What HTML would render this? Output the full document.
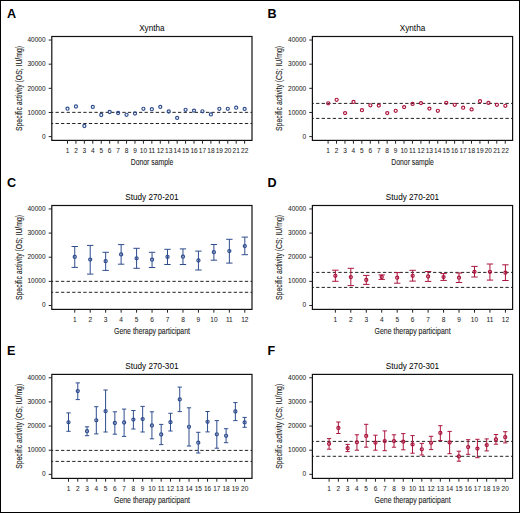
<!DOCTYPE html>
<html><head><meta charset="utf-8"><style>
html,body{margin:0;padding:0;background:#fff;}
body{width:520px;height:513px;overflow:hidden;}
svg{display:block;}
svg text{font-family:"Liberation Sans", sans-serif;stroke:#1e1e1e;stroke-width:0.12px;}
svg text.b{stroke:none;}
svg text.t{stroke-width:0.05px;}
</style></head><body>
<svg width="520" height="513" viewBox="0 0 520 513">
<rect x="0" y="0" width="520" height="513" fill="#fff"/>
<rect x="0.5" y="0.5" width="519" height="512" fill="none" stroke="#000" stroke-width="1"/>
<text x="7" y="17.6" font-size="12.6" font-weight="bold" class="b">A</text>
<text x="151.9" y="31.2" font-size="8.2" text-anchor="middle" class="b">Xyntha</text>
<line x1="51.8" x2="252" y1="112.35" y2="112.35" stroke="#222" stroke-width="1" stroke-dasharray="3.3 2.27" stroke-dashoffset="1.9"/>
<line x1="51.8" x2="252" y1="123.5" y2="123.5" stroke="#222" stroke-width="1" stroke-dasharray="3.3 2.27" stroke-dashoffset="1.9"/>
<rect x="51.8" y="36.5" width="200.2" height="103.9" fill="none" stroke="#111" stroke-width="1.2"/>
<line x1="48.7" x2="51.8" y1="136.6" y2="136.6" stroke="#222" stroke-width="1"/>
<text transform="translate(45.6,138.8) scale(0.87,1)" font-size="7.5" text-anchor="end" fill="#1e1e1e" class="t">0</text>
<line x1="48.7" x2="51.8" y1="112.46" y2="112.46" stroke="#222" stroke-width="1"/>
<text transform="translate(45.6,114.66) scale(0.87,1)" font-size="7.5" text-anchor="end" fill="#1e1e1e" class="t">10000</text>
<line x1="48.7" x2="51.8" y1="88.32" y2="88.32" stroke="#222" stroke-width="1"/>
<text transform="translate(45.6,90.52) scale(0.87,1)" font-size="7.5" text-anchor="end" fill="#1e1e1e" class="t">20000</text>
<line x1="48.7" x2="51.8" y1="64.18" y2="64.18" stroke="#222" stroke-width="1"/>
<text transform="translate(45.6,66.38) scale(0.87,1)" font-size="7.5" text-anchor="end" fill="#1e1e1e" class="t">30000</text>
<line x1="48.7" x2="51.8" y1="40.04" y2="40.04" stroke="#222" stroke-width="1"/>
<text transform="translate(45.6,42.24) scale(0.87,1)" font-size="7.5" text-anchor="end" fill="#1e1e1e" class="t">40000</text>
<line x1="67.5" x2="67.5" y1="140.4" y2="143.7" stroke="#222" stroke-width="1"/>
<text transform="translate(67.5,152.6) scale(0.87,1)" font-size="7.5" text-anchor="middle" fill="#1e1e1e" class="t">1</text>
<line x1="75.94" x2="75.94" y1="140.4" y2="143.7" stroke="#222" stroke-width="1"/>
<text transform="translate(75.94,152.6) scale(0.87,1)" font-size="7.5" text-anchor="middle" fill="#1e1e1e" class="t">2</text>
<line x1="84.37" x2="84.37" y1="140.4" y2="143.7" stroke="#222" stroke-width="1"/>
<text transform="translate(84.37,152.6) scale(0.87,1)" font-size="7.5" text-anchor="middle" fill="#1e1e1e" class="t">3</text>
<line x1="92.81" x2="92.81" y1="140.4" y2="143.7" stroke="#222" stroke-width="1"/>
<text transform="translate(92.81,152.6) scale(0.87,1)" font-size="7.5" text-anchor="middle" fill="#1e1e1e" class="t">4</text>
<line x1="101.24" x2="101.24" y1="140.4" y2="143.7" stroke="#222" stroke-width="1"/>
<text transform="translate(101.24,152.6) scale(0.87,1)" font-size="7.5" text-anchor="middle" fill="#1e1e1e" class="t">5</text>
<line x1="109.68" x2="109.68" y1="140.4" y2="143.7" stroke="#222" stroke-width="1"/>
<text transform="translate(109.68,152.6) scale(0.87,1)" font-size="7.5" text-anchor="middle" fill="#1e1e1e" class="t">6</text>
<line x1="118.11" x2="118.11" y1="140.4" y2="143.7" stroke="#222" stroke-width="1"/>
<text transform="translate(118.11,152.6) scale(0.87,1)" font-size="7.5" text-anchor="middle" fill="#1e1e1e" class="t">7</text>
<line x1="126.55" x2="126.55" y1="140.4" y2="143.7" stroke="#222" stroke-width="1"/>
<text transform="translate(126.55,152.6) scale(0.87,1)" font-size="7.5" text-anchor="middle" fill="#1e1e1e" class="t">8</text>
<line x1="134.98" x2="134.98" y1="140.4" y2="143.7" stroke="#222" stroke-width="1"/>
<text transform="translate(134.98,152.6) scale(0.87,1)" font-size="7.5" text-anchor="middle" fill="#1e1e1e" class="t">9</text>
<line x1="143.42" x2="143.42" y1="140.4" y2="143.7" stroke="#222" stroke-width="1"/>
<text transform="translate(143.42,152.6) scale(0.87,1)" font-size="7.5" text-anchor="middle" fill="#1e1e1e" class="t">10</text>
<line x1="151.85" x2="151.85" y1="140.4" y2="143.7" stroke="#222" stroke-width="1"/>
<text transform="translate(151.85,152.6) scale(0.87,1)" font-size="7.5" text-anchor="middle" fill="#1e1e1e" class="t">11</text>
<line x1="160.29" x2="160.29" y1="140.4" y2="143.7" stroke="#222" stroke-width="1"/>
<text transform="translate(160.29,152.6) scale(0.87,1)" font-size="7.5" text-anchor="middle" fill="#1e1e1e" class="t">12</text>
<line x1="168.72" x2="168.72" y1="140.4" y2="143.7" stroke="#222" stroke-width="1"/>
<text transform="translate(168.72,152.6) scale(0.87,1)" font-size="7.5" text-anchor="middle" fill="#1e1e1e" class="t">13</text>
<line x1="177.16" x2="177.16" y1="140.4" y2="143.7" stroke="#222" stroke-width="1"/>
<text transform="translate(177.16,152.6) scale(0.87,1)" font-size="7.5" text-anchor="middle" fill="#1e1e1e" class="t">14</text>
<line x1="185.59" x2="185.59" y1="140.4" y2="143.7" stroke="#222" stroke-width="1"/>
<text transform="translate(185.59,152.6) scale(0.87,1)" font-size="7.5" text-anchor="middle" fill="#1e1e1e" class="t">15</text>
<line x1="194.03" x2="194.03" y1="140.4" y2="143.7" stroke="#222" stroke-width="1"/>
<text transform="translate(194.03,152.6) scale(0.87,1)" font-size="7.5" text-anchor="middle" fill="#1e1e1e" class="t">16</text>
<line x1="202.46" x2="202.46" y1="140.4" y2="143.7" stroke="#222" stroke-width="1"/>
<text transform="translate(202.46,152.6) scale(0.87,1)" font-size="7.5" text-anchor="middle" fill="#1e1e1e" class="t">17</text>
<line x1="210.9" x2="210.9" y1="140.4" y2="143.7" stroke="#222" stroke-width="1"/>
<text transform="translate(210.9,152.6) scale(0.87,1)" font-size="7.5" text-anchor="middle" fill="#1e1e1e" class="t">18</text>
<line x1="219.33" x2="219.33" y1="140.4" y2="143.7" stroke="#222" stroke-width="1"/>
<text transform="translate(219.33,152.6) scale(0.87,1)" font-size="7.5" text-anchor="middle" fill="#1e1e1e" class="t">19</text>
<line x1="227.77" x2="227.77" y1="140.4" y2="143.7" stroke="#222" stroke-width="1"/>
<text transform="translate(227.77,152.6) scale(0.87,1)" font-size="7.5" text-anchor="middle" fill="#1e1e1e" class="t">20</text>
<line x1="236.2" x2="236.2" y1="140.4" y2="143.7" stroke="#222" stroke-width="1"/>
<text transform="translate(236.2,152.6) scale(0.87,1)" font-size="7.5" text-anchor="middle" fill="#1e1e1e" class="t">21</text>
<line x1="244.64" x2="244.64" y1="140.4" y2="143.7" stroke="#222" stroke-width="1"/>
<text transform="translate(244.64,152.6) scale(0.87,1)" font-size="7.5" text-anchor="middle" fill="#1e1e1e" class="t">22</text>
<text x="152" y="165.3" font-size="9.9" text-anchor="middle" textLength="42.5" lengthAdjust="spacingAndGlyphs" fill="#1e1e1e">Donor sample</text>
<text transform="translate(21.7,88.5) rotate(-90)" font-size="9.5" text-anchor="middle" textLength="85" lengthAdjust="spacingAndGlyphs" fill="#1e1e1e">Specific activity (OS; IU/mg)</text>
<circle cx="67.5" cy="108.7" r="1.55" fill="none" stroke="#2f4d8e" stroke-width="1.2"/>
<circle cx="75.94" cy="106.5" r="1.55" fill="none" stroke="#2f4d8e" stroke-width="1.2"/>
<circle cx="84.37" cy="126" r="1.55" fill="none" stroke="#2f4d8e" stroke-width="1.2"/>
<circle cx="92.81" cy="106.9" r="1.55" fill="none" stroke="#2f4d8e" stroke-width="1.2"/>
<circle cx="101.24" cy="115" r="1.55" fill="none" stroke="#2f4d8e" stroke-width="1.2"/>
<circle cx="109.68" cy="112" r="1.55" fill="none" stroke="#2f4d8e" stroke-width="1.2"/>
<circle cx="118.11" cy="113" r="1.55" fill="none" stroke="#2f4d8e" stroke-width="1.2"/>
<circle cx="126.55" cy="114.8" r="1.55" fill="none" stroke="#2f4d8e" stroke-width="1.2"/>
<circle cx="134.98" cy="113.5" r="1.55" fill="none" stroke="#2f4d8e" stroke-width="1.2"/>
<circle cx="143.42" cy="108.8" r="1.55" fill="none" stroke="#2f4d8e" stroke-width="1.2"/>
<circle cx="151.85" cy="109.2" r="1.55" fill="none" stroke="#2f4d8e" stroke-width="1.2"/>
<circle cx="160.29" cy="106.9" r="1.55" fill="none" stroke="#2f4d8e" stroke-width="1.2"/>
<circle cx="168.72" cy="111.5" r="1.55" fill="none" stroke="#2f4d8e" stroke-width="1.2"/>
<circle cx="177.16" cy="117.9" r="1.55" fill="none" stroke="#2f4d8e" stroke-width="1.2"/>
<circle cx="185.59" cy="109.8" r="1.55" fill="none" stroke="#2f4d8e" stroke-width="1.2"/>
<circle cx="194.03" cy="110.6" r="1.55" fill="none" stroke="#2f4d8e" stroke-width="1.2"/>
<circle cx="202.46" cy="111.3" r="1.55" fill="none" stroke="#2f4d8e" stroke-width="1.2"/>
<circle cx="210.9" cy="114.4" r="1.55" fill="none" stroke="#2f4d8e" stroke-width="1.2"/>
<circle cx="219.33" cy="108.8" r="1.55" fill="none" stroke="#2f4d8e" stroke-width="1.2"/>
<circle cx="227.77" cy="108.8" r="1.55" fill="none" stroke="#2f4d8e" stroke-width="1.2"/>
<circle cx="236.2" cy="107.7" r="1.55" fill="none" stroke="#2f4d8e" stroke-width="1.2"/>
<circle cx="244.64" cy="108.9" r="1.55" fill="none" stroke="#2f4d8e" stroke-width="1.2"/>
<text x="267.6" y="17.6" font-size="12.6" font-weight="bold" class="b">B</text>
<text x="412.5" y="31.2" font-size="8.2" text-anchor="middle" class="b">Xyntha</text>
<line x1="312.4" x2="512.6" y1="103.4" y2="103.4" stroke="#222" stroke-width="1" stroke-dasharray="3.3 2.27" stroke-dashoffset="1.9"/>
<line x1="312.4" x2="512.6" y1="118.4" y2="118.4" stroke="#222" stroke-width="1" stroke-dasharray="3.3 2.27" stroke-dashoffset="1.9"/>
<rect x="312.4" y="36.5" width="200.2" height="103.9" fill="none" stroke="#111" stroke-width="1.2"/>
<line x1="309.3" x2="312.4" y1="136.6" y2="136.6" stroke="#222" stroke-width="1"/>
<text transform="translate(306.2,138.8) scale(0.87,1)" font-size="7.5" text-anchor="end" fill="#1e1e1e" class="t">0</text>
<line x1="309.3" x2="312.4" y1="112.46" y2="112.46" stroke="#222" stroke-width="1"/>
<text transform="translate(306.2,114.66) scale(0.87,1)" font-size="7.5" text-anchor="end" fill="#1e1e1e" class="t">10000</text>
<line x1="309.3" x2="312.4" y1="88.32" y2="88.32" stroke="#222" stroke-width="1"/>
<text transform="translate(306.2,90.52) scale(0.87,1)" font-size="7.5" text-anchor="end" fill="#1e1e1e" class="t">20000</text>
<line x1="309.3" x2="312.4" y1="64.18" y2="64.18" stroke="#222" stroke-width="1"/>
<text transform="translate(306.2,66.38) scale(0.87,1)" font-size="7.5" text-anchor="end" fill="#1e1e1e" class="t">30000</text>
<line x1="309.3" x2="312.4" y1="40.04" y2="40.04" stroke="#222" stroke-width="1"/>
<text transform="translate(306.2,42.24) scale(0.87,1)" font-size="7.5" text-anchor="end" fill="#1e1e1e" class="t">40000</text>
<line x1="328.1" x2="328.1" y1="140.4" y2="143.7" stroke="#222" stroke-width="1"/>
<text transform="translate(328.1,152.6) scale(0.87,1)" font-size="7.5" text-anchor="middle" fill="#1e1e1e" class="t">1</text>
<line x1="336.54" x2="336.54" y1="140.4" y2="143.7" stroke="#222" stroke-width="1"/>
<text transform="translate(336.54,152.6) scale(0.87,1)" font-size="7.5" text-anchor="middle" fill="#1e1e1e" class="t">2</text>
<line x1="344.97" x2="344.97" y1="140.4" y2="143.7" stroke="#222" stroke-width="1"/>
<text transform="translate(344.97,152.6) scale(0.87,1)" font-size="7.5" text-anchor="middle" fill="#1e1e1e" class="t">3</text>
<line x1="353.41" x2="353.41" y1="140.4" y2="143.7" stroke="#222" stroke-width="1"/>
<text transform="translate(353.41,152.6) scale(0.87,1)" font-size="7.5" text-anchor="middle" fill="#1e1e1e" class="t">4</text>
<line x1="361.84" x2="361.84" y1="140.4" y2="143.7" stroke="#222" stroke-width="1"/>
<text transform="translate(361.84,152.6) scale(0.87,1)" font-size="7.5" text-anchor="middle" fill="#1e1e1e" class="t">5</text>
<line x1="370.28" x2="370.28" y1="140.4" y2="143.7" stroke="#222" stroke-width="1"/>
<text transform="translate(370.28,152.6) scale(0.87,1)" font-size="7.5" text-anchor="middle" fill="#1e1e1e" class="t">6</text>
<line x1="378.71" x2="378.71" y1="140.4" y2="143.7" stroke="#222" stroke-width="1"/>
<text transform="translate(378.71,152.6) scale(0.87,1)" font-size="7.5" text-anchor="middle" fill="#1e1e1e" class="t">7</text>
<line x1="387.15" x2="387.15" y1="140.4" y2="143.7" stroke="#222" stroke-width="1"/>
<text transform="translate(387.15,152.6) scale(0.87,1)" font-size="7.5" text-anchor="middle" fill="#1e1e1e" class="t">8</text>
<line x1="395.58" x2="395.58" y1="140.4" y2="143.7" stroke="#222" stroke-width="1"/>
<text transform="translate(395.58,152.6) scale(0.87,1)" font-size="7.5" text-anchor="middle" fill="#1e1e1e" class="t">9</text>
<line x1="404.02" x2="404.02" y1="140.4" y2="143.7" stroke="#222" stroke-width="1"/>
<text transform="translate(404.02,152.6) scale(0.87,1)" font-size="7.5" text-anchor="middle" fill="#1e1e1e" class="t">10</text>
<line x1="412.45" x2="412.45" y1="140.4" y2="143.7" stroke="#222" stroke-width="1"/>
<text transform="translate(412.45,152.6) scale(0.87,1)" font-size="7.5" text-anchor="middle" fill="#1e1e1e" class="t">11</text>
<line x1="420.89" x2="420.89" y1="140.4" y2="143.7" stroke="#222" stroke-width="1"/>
<text transform="translate(420.89,152.6) scale(0.87,1)" font-size="7.5" text-anchor="middle" fill="#1e1e1e" class="t">12</text>
<line x1="429.32" x2="429.32" y1="140.4" y2="143.7" stroke="#222" stroke-width="1"/>
<text transform="translate(429.32,152.6) scale(0.87,1)" font-size="7.5" text-anchor="middle" fill="#1e1e1e" class="t">13</text>
<line x1="437.75" x2="437.75" y1="140.4" y2="143.7" stroke="#222" stroke-width="1"/>
<text transform="translate(437.75,152.6) scale(0.87,1)" font-size="7.5" text-anchor="middle" fill="#1e1e1e" class="t">14</text>
<line x1="446.19" x2="446.19" y1="140.4" y2="143.7" stroke="#222" stroke-width="1"/>
<text transform="translate(446.19,152.6) scale(0.87,1)" font-size="7.5" text-anchor="middle" fill="#1e1e1e" class="t">15</text>
<line x1="454.62" x2="454.62" y1="140.4" y2="143.7" stroke="#222" stroke-width="1"/>
<text transform="translate(454.62,152.6) scale(0.87,1)" font-size="7.5" text-anchor="middle" fill="#1e1e1e" class="t">16</text>
<line x1="463.06" x2="463.06" y1="140.4" y2="143.7" stroke="#222" stroke-width="1"/>
<text transform="translate(463.06,152.6) scale(0.87,1)" font-size="7.5" text-anchor="middle" fill="#1e1e1e" class="t">17</text>
<line x1="471.5" x2="471.5" y1="140.4" y2="143.7" stroke="#222" stroke-width="1"/>
<text transform="translate(471.5,152.6) scale(0.87,1)" font-size="7.5" text-anchor="middle" fill="#1e1e1e" class="t">18</text>
<line x1="479.93" x2="479.93" y1="140.4" y2="143.7" stroke="#222" stroke-width="1"/>
<text transform="translate(479.93,152.6) scale(0.87,1)" font-size="7.5" text-anchor="middle" fill="#1e1e1e" class="t">19</text>
<line x1="488.37" x2="488.37" y1="140.4" y2="143.7" stroke="#222" stroke-width="1"/>
<text transform="translate(488.37,152.6) scale(0.87,1)" font-size="7.5" text-anchor="middle" fill="#1e1e1e" class="t">20</text>
<line x1="496.8" x2="496.8" y1="140.4" y2="143.7" stroke="#222" stroke-width="1"/>
<text transform="translate(496.8,152.6) scale(0.87,1)" font-size="7.5" text-anchor="middle" fill="#1e1e1e" class="t">21</text>
<line x1="505.24" x2="505.24" y1="140.4" y2="143.7" stroke="#222" stroke-width="1"/>
<text transform="translate(505.24,152.6) scale(0.87,1)" font-size="7.5" text-anchor="middle" fill="#1e1e1e" class="t">22</text>
<text x="412.6" y="165.3" font-size="9.9" text-anchor="middle" textLength="42.5" lengthAdjust="spacingAndGlyphs" fill="#1e1e1e">Donor sample</text>
<text transform="translate(282.3,88.5) rotate(-90)" font-size="9.5" text-anchor="middle" textLength="85" lengthAdjust="spacingAndGlyphs" fill="#1e1e1e">Specific activity (CS; IU/mg)</text>
<circle cx="328.2" cy="103.3" r="1.55" fill="none" stroke="#ac153d" stroke-width="1.2"/>
<circle cx="336.63" cy="99.8" r="1.55" fill="none" stroke="#ac153d" stroke-width="1.2"/>
<circle cx="345.07" cy="113.1" r="1.55" fill="none" stroke="#ac153d" stroke-width="1.2"/>
<circle cx="353.5" cy="101.9" r="1.55" fill="none" stroke="#ac153d" stroke-width="1.2"/>
<circle cx="361.94" cy="110.2" r="1.55" fill="none" stroke="#ac153d" stroke-width="1.2"/>
<circle cx="370.38" cy="105.3" r="1.55" fill="none" stroke="#ac153d" stroke-width="1.2"/>
<circle cx="378.81" cy="105.6" r="1.55" fill="none" stroke="#ac153d" stroke-width="1.2"/>
<circle cx="387.25" cy="113.1" r="1.55" fill="none" stroke="#ac153d" stroke-width="1.2"/>
<circle cx="395.68" cy="110.8" r="1.55" fill="none" stroke="#ac153d" stroke-width="1.2"/>
<circle cx="404.12" cy="107.1" r="1.55" fill="none" stroke="#ac153d" stroke-width="1.2"/>
<circle cx="412.55" cy="103.9" r="1.55" fill="none" stroke="#ac153d" stroke-width="1.2"/>
<circle cx="420.99" cy="103.1" r="1.55" fill="none" stroke="#ac153d" stroke-width="1.2"/>
<circle cx="429.42" cy="108.6" r="1.55" fill="none" stroke="#ac153d" stroke-width="1.2"/>
<circle cx="437.86" cy="110.8" r="1.55" fill="none" stroke="#ac153d" stroke-width="1.2"/>
<circle cx="446.29" cy="102.8" r="1.55" fill="none" stroke="#ac153d" stroke-width="1.2"/>
<circle cx="454.73" cy="104.8" r="1.55" fill="none" stroke="#ac153d" stroke-width="1.2"/>
<circle cx="463.16" cy="107.7" r="1.55" fill="none" stroke="#ac153d" stroke-width="1.2"/>
<circle cx="471.6" cy="109.4" r="1.55" fill="none" stroke="#ac153d" stroke-width="1.2"/>
<circle cx="480.03" cy="101.2" r="1.55" fill="none" stroke="#ac153d" stroke-width="1.2"/>
<circle cx="488.47" cy="102.9" r="1.55" fill="none" stroke="#ac153d" stroke-width="1.2"/>
<circle cx="496.9" cy="104.8" r="1.55" fill="none" stroke="#ac153d" stroke-width="1.2"/>
<circle cx="505.34" cy="105.8" r="1.55" fill="none" stroke="#ac153d" stroke-width="1.2"/>
<text x="7" y="186.6" font-size="12.6" font-weight="bold" class="b">C</text>
<text x="151.9" y="200.2" font-size="8.2" text-anchor="middle" class="b">Study 270-201</text>
<line x1="51.8" x2="252" y1="281.35" y2="281.35" stroke="#222" stroke-width="1" stroke-dasharray="3.3 2.27" stroke-dashoffset="1.9"/>
<line x1="51.8" x2="252" y1="292.3" y2="292.3" stroke="#222" stroke-width="1" stroke-dasharray="3.3 2.27" stroke-dashoffset="1.9"/>
<rect x="51.8" y="205.5" width="200.2" height="103.9" fill="none" stroke="#111" stroke-width="1.2"/>
<line x1="48.7" x2="51.8" y1="305.5" y2="305.5" stroke="#222" stroke-width="1"/>
<text transform="translate(45.6,307.4) scale(0.87,1)" font-size="7.5" text-anchor="end" fill="#1e1e1e" class="t">0</text>
<line x1="48.7" x2="51.8" y1="281.36" y2="281.36" stroke="#222" stroke-width="1"/>
<text transform="translate(45.6,283.26) scale(0.87,1)" font-size="7.5" text-anchor="end" fill="#1e1e1e" class="t">10000</text>
<line x1="48.7" x2="51.8" y1="257.22" y2="257.22" stroke="#222" stroke-width="1"/>
<text transform="translate(45.6,259.12) scale(0.87,1)" font-size="7.5" text-anchor="end" fill="#1e1e1e" class="t">20000</text>
<line x1="48.7" x2="51.8" y1="233.08" y2="233.08" stroke="#222" stroke-width="1"/>
<text transform="translate(45.6,234.98) scale(0.87,1)" font-size="7.5" text-anchor="end" fill="#1e1e1e" class="t">30000</text>
<line x1="48.7" x2="51.8" y1="208.94" y2="208.94" stroke="#222" stroke-width="1"/>
<text transform="translate(45.6,210.84) scale(0.87,1)" font-size="7.5" text-anchor="end" fill="#1e1e1e" class="t">40000</text>
<line x1="74.75" x2="74.75" y1="309.4" y2="312.7" stroke="#222" stroke-width="1"/>
<text transform="translate(74.75,321.6) scale(0.87,1)" font-size="7.5" text-anchor="middle" fill="#1e1e1e" class="t">1</text>
<line x1="90.21" x2="90.21" y1="309.4" y2="312.7" stroke="#222" stroke-width="1"/>
<text transform="translate(90.21,321.6) scale(0.87,1)" font-size="7.5" text-anchor="middle" fill="#1e1e1e" class="t">2</text>
<line x1="105.67" x2="105.67" y1="309.4" y2="312.7" stroke="#222" stroke-width="1"/>
<text transform="translate(105.67,321.6) scale(0.87,1)" font-size="7.5" text-anchor="middle" fill="#1e1e1e" class="t">3</text>
<line x1="121.13" x2="121.13" y1="309.4" y2="312.7" stroke="#222" stroke-width="1"/>
<text transform="translate(121.13,321.6) scale(0.87,1)" font-size="7.5" text-anchor="middle" fill="#1e1e1e" class="t">4</text>
<line x1="136.59" x2="136.59" y1="309.4" y2="312.7" stroke="#222" stroke-width="1"/>
<text transform="translate(136.59,321.6) scale(0.87,1)" font-size="7.5" text-anchor="middle" fill="#1e1e1e" class="t">5</text>
<line x1="152.05" x2="152.05" y1="309.4" y2="312.7" stroke="#222" stroke-width="1"/>
<text transform="translate(152.05,321.6) scale(0.87,1)" font-size="7.5" text-anchor="middle" fill="#1e1e1e" class="t">6</text>
<line x1="167.51" x2="167.51" y1="309.4" y2="312.7" stroke="#222" stroke-width="1"/>
<text transform="translate(167.51,321.6) scale(0.87,1)" font-size="7.5" text-anchor="middle" fill="#1e1e1e" class="t">7</text>
<line x1="182.97" x2="182.97" y1="309.4" y2="312.7" stroke="#222" stroke-width="1"/>
<text transform="translate(182.97,321.6) scale(0.87,1)" font-size="7.5" text-anchor="middle" fill="#1e1e1e" class="t">8</text>
<line x1="198.43" x2="198.43" y1="309.4" y2="312.7" stroke="#222" stroke-width="1"/>
<text transform="translate(198.43,321.6) scale(0.87,1)" font-size="7.5" text-anchor="middle" fill="#1e1e1e" class="t">9</text>
<line x1="213.89" x2="213.89" y1="309.4" y2="312.7" stroke="#222" stroke-width="1"/>
<text transform="translate(213.89,321.6) scale(0.87,1)" font-size="7.5" text-anchor="middle" fill="#1e1e1e" class="t">10</text>
<line x1="229.35" x2="229.35" y1="309.4" y2="312.7" stroke="#222" stroke-width="1"/>
<text transform="translate(229.35,321.6) scale(0.87,1)" font-size="7.5" text-anchor="middle" fill="#1e1e1e" class="t">11</text>
<line x1="244.81" x2="244.81" y1="309.4" y2="312.7" stroke="#222" stroke-width="1"/>
<text transform="translate(244.81,321.6) scale(0.87,1)" font-size="7.5" text-anchor="middle" fill="#1e1e1e" class="t">12</text>
<text x="152" y="334.3" font-size="9.9" text-anchor="middle" textLength="76.0" lengthAdjust="spacingAndGlyphs" fill="#1e1e1e">Gene therapy participant</text>
<text transform="translate(21.7,257.5) rotate(-90)" font-size="9.5" text-anchor="middle" textLength="85" lengthAdjust="spacingAndGlyphs" fill="#1e1e1e">Specific activity (OS; IU/mg)</text>
<path d="M74.75 246.5V267.4M71.55 246.5H77.95M71.55 267.4H77.95" stroke="#2f4d8e" stroke-width="1" fill="none"/>
<circle cx="74.75" cy="256.9" r="1.55" fill="none" stroke="#2f4d8e" stroke-width="1.2"/>
<path d="M90.21 245.4V274.1M87.01 245.4H93.41M87.01 274.1H93.41" stroke="#2f4d8e" stroke-width="1" fill="none"/>
<circle cx="90.21" cy="259.6" r="1.55" fill="none" stroke="#2f4d8e" stroke-width="1.2"/>
<path d="M105.67 252.3V270.4M102.47 252.3H108.87M102.47 270.4H108.87" stroke="#2f4d8e" stroke-width="1" fill="none"/>
<circle cx="105.67" cy="261.2" r="1.55" fill="none" stroke="#2f4d8e" stroke-width="1.2"/>
<path d="M121.13 244.6V264.2M117.93 244.6H124.33M117.93 264.2H124.33" stroke="#2f4d8e" stroke-width="1" fill="none"/>
<circle cx="121.13" cy="254.4" r="1.55" fill="none" stroke="#2f4d8e" stroke-width="1.2"/>
<path d="M136.59 248.3V268.3M133.39 248.3H139.79M133.39 268.3H139.79" stroke="#2f4d8e" stroke-width="1" fill="none"/>
<circle cx="136.59" cy="258.3" r="1.55" fill="none" stroke="#2f4d8e" stroke-width="1.2"/>
<path d="M152.05 252.3V267.5M148.85 252.3H155.25M148.85 267.5H155.25" stroke="#2f4d8e" stroke-width="1" fill="none"/>
<circle cx="152.05" cy="259.7" r="1.55" fill="none" stroke="#2f4d8e" stroke-width="1.2"/>
<path d="M167.51 249.3V264.5M164.31 249.3H170.71M164.31 264.5H170.71" stroke="#2f4d8e" stroke-width="1" fill="none"/>
<circle cx="167.51" cy="256.9" r="1.55" fill="none" stroke="#2f4d8e" stroke-width="1.2"/>
<path d="M182.97 248.9V264.5M179.77 248.9H186.17M179.77 264.5H186.17" stroke="#2f4d8e" stroke-width="1" fill="none"/>
<circle cx="182.97" cy="256.7" r="1.55" fill="none" stroke="#2f4d8e" stroke-width="1.2"/>
<path d="M198.43 251.1V270M195.23 251.1H201.63M195.23 270H201.63" stroke="#2f4d8e" stroke-width="1" fill="none"/>
<circle cx="198.43" cy="260.5" r="1.55" fill="none" stroke="#2f4d8e" stroke-width="1.2"/>
<path d="M213.89 244.5V260.2M210.69 244.5H217.09M210.69 260.2H217.09" stroke="#2f4d8e" stroke-width="1" fill="none"/>
<circle cx="213.89" cy="252.2" r="1.55" fill="none" stroke="#2f4d8e" stroke-width="1.2"/>
<path d="M229.35 239.3V263.1M226.15 239.3H232.55M226.15 263.1H232.55" stroke="#2f4d8e" stroke-width="1" fill="none"/>
<circle cx="229.35" cy="251.1" r="1.55" fill="none" stroke="#2f4d8e" stroke-width="1.2"/>
<path d="M244.81 237.1V254.7M241.61 237.1H248.01M241.61 254.7H248.01" stroke="#2f4d8e" stroke-width="1" fill="none"/>
<circle cx="244.81" cy="246.1" r="1.55" fill="none" stroke="#2f4d8e" stroke-width="1.2"/>
<text x="267.6" y="186.6" font-size="12.6" font-weight="bold" class="b">D</text>
<text x="412.5" y="200.2" font-size="8.2" text-anchor="middle" class="b">Study 270-201</text>
<line x1="312.4" x2="512.6" y1="272.4" y2="272.4" stroke="#222" stroke-width="1" stroke-dasharray="3.3 2.27" stroke-dashoffset="1.9"/>
<line x1="312.4" x2="512.6" y1="287.4" y2="287.4" stroke="#222" stroke-width="1" stroke-dasharray="3.3 2.27" stroke-dashoffset="1.9"/>
<rect x="312.4" y="205.5" width="200.2" height="103.9" fill="none" stroke="#111" stroke-width="1.2"/>
<line x1="309.3" x2="312.4" y1="305.5" y2="305.5" stroke="#222" stroke-width="1"/>
<text transform="translate(306.2,307.4) scale(0.87,1)" font-size="7.5" text-anchor="end" fill="#1e1e1e" class="t">0</text>
<line x1="309.3" x2="312.4" y1="281.36" y2="281.36" stroke="#222" stroke-width="1"/>
<text transform="translate(306.2,283.26) scale(0.87,1)" font-size="7.5" text-anchor="end" fill="#1e1e1e" class="t">10000</text>
<line x1="309.3" x2="312.4" y1="257.22" y2="257.22" stroke="#222" stroke-width="1"/>
<text transform="translate(306.2,259.12) scale(0.87,1)" font-size="7.5" text-anchor="end" fill="#1e1e1e" class="t">20000</text>
<line x1="309.3" x2="312.4" y1="233.08" y2="233.08" stroke="#222" stroke-width="1"/>
<text transform="translate(306.2,234.98) scale(0.87,1)" font-size="7.5" text-anchor="end" fill="#1e1e1e" class="t">30000</text>
<line x1="309.3" x2="312.4" y1="208.94" y2="208.94" stroke="#222" stroke-width="1"/>
<text transform="translate(306.2,210.84) scale(0.87,1)" font-size="7.5" text-anchor="end" fill="#1e1e1e" class="t">40000</text>
<line x1="335.35" x2="335.35" y1="309.4" y2="312.7" stroke="#222" stroke-width="1"/>
<text transform="translate(335.35,321.6) scale(0.87,1)" font-size="7.5" text-anchor="middle" fill="#1e1e1e" class="t">1</text>
<line x1="350.81" x2="350.81" y1="309.4" y2="312.7" stroke="#222" stroke-width="1"/>
<text transform="translate(350.81,321.6) scale(0.87,1)" font-size="7.5" text-anchor="middle" fill="#1e1e1e" class="t">2</text>
<line x1="366.27" x2="366.27" y1="309.4" y2="312.7" stroke="#222" stroke-width="1"/>
<text transform="translate(366.27,321.6) scale(0.87,1)" font-size="7.5" text-anchor="middle" fill="#1e1e1e" class="t">3</text>
<line x1="381.73" x2="381.73" y1="309.4" y2="312.7" stroke="#222" stroke-width="1"/>
<text transform="translate(381.73,321.6) scale(0.87,1)" font-size="7.5" text-anchor="middle" fill="#1e1e1e" class="t">4</text>
<line x1="397.19" x2="397.19" y1="309.4" y2="312.7" stroke="#222" stroke-width="1"/>
<text transform="translate(397.19,321.6) scale(0.87,1)" font-size="7.5" text-anchor="middle" fill="#1e1e1e" class="t">5</text>
<line x1="412.65" x2="412.65" y1="309.4" y2="312.7" stroke="#222" stroke-width="1"/>
<text transform="translate(412.65,321.6) scale(0.87,1)" font-size="7.5" text-anchor="middle" fill="#1e1e1e" class="t">6</text>
<line x1="428.11" x2="428.11" y1="309.4" y2="312.7" stroke="#222" stroke-width="1"/>
<text transform="translate(428.11,321.6) scale(0.87,1)" font-size="7.5" text-anchor="middle" fill="#1e1e1e" class="t">7</text>
<line x1="443.57" x2="443.57" y1="309.4" y2="312.7" stroke="#222" stroke-width="1"/>
<text transform="translate(443.57,321.6) scale(0.87,1)" font-size="7.5" text-anchor="middle" fill="#1e1e1e" class="t">8</text>
<line x1="459.03" x2="459.03" y1="309.4" y2="312.7" stroke="#222" stroke-width="1"/>
<text transform="translate(459.03,321.6) scale(0.87,1)" font-size="7.5" text-anchor="middle" fill="#1e1e1e" class="t">9</text>
<line x1="474.49" x2="474.49" y1="309.4" y2="312.7" stroke="#222" stroke-width="1"/>
<text transform="translate(474.49,321.6) scale(0.87,1)" font-size="7.5" text-anchor="middle" fill="#1e1e1e" class="t">10</text>
<line x1="489.95" x2="489.95" y1="309.4" y2="312.7" stroke="#222" stroke-width="1"/>
<text transform="translate(489.95,321.6) scale(0.87,1)" font-size="7.5" text-anchor="middle" fill="#1e1e1e" class="t">11</text>
<line x1="505.41" x2="505.41" y1="309.4" y2="312.7" stroke="#222" stroke-width="1"/>
<text transform="translate(505.41,321.6) scale(0.87,1)" font-size="7.5" text-anchor="middle" fill="#1e1e1e" class="t">12</text>
<text x="412.6" y="334.3" font-size="9.9" text-anchor="middle" textLength="76.0" lengthAdjust="spacingAndGlyphs" fill="#1e1e1e">Gene therapy participant</text>
<text transform="translate(282.3,257.5) rotate(-90)" font-size="9.5" text-anchor="middle" textLength="85" lengthAdjust="spacingAndGlyphs" fill="#1e1e1e">Specific activity (CS; IU/mg)</text>
<path d="M335.35 270.2V281.3M332.15 270.2H338.55M332.15 281.3H338.55" stroke="#ac153d" stroke-width="1" fill="none"/>
<circle cx="335.35" cy="275.8" r="1.55" fill="none" stroke="#ac153d" stroke-width="1.2"/>
<path d="M350.81 268.3V285.6M347.61 268.3H354.01M347.61 285.6H354.01" stroke="#ac153d" stroke-width="1" fill="none"/>
<circle cx="350.81" cy="277.1" r="1.55" fill="none" stroke="#ac153d" stroke-width="1.2"/>
<path d="M366.27 275.4V284.4M363.07 275.4H369.47M363.07 284.4H369.47" stroke="#ac153d" stroke-width="1" fill="none"/>
<circle cx="366.27" cy="279.9" r="1.55" fill="none" stroke="#ac153d" stroke-width="1.2"/>
<path d="M381.73 274.9V279.4M378.53 274.9H384.93M378.53 279.4H384.93" stroke="#ac153d" stroke-width="1" fill="none"/>
<circle cx="381.73" cy="277" r="1.55" fill="none" stroke="#ac153d" stroke-width="1.2"/>
<path d="M397.19 272.6V283.2M393.99 272.6H400.39M393.99 283.2H400.39" stroke="#ac153d" stroke-width="1" fill="none"/>
<circle cx="397.19" cy="277.7" r="1.55" fill="none" stroke="#ac153d" stroke-width="1.2"/>
<path d="M412.65 270.3V281.1M409.45 270.3H415.85M409.45 281.1H415.85" stroke="#ac153d" stroke-width="1" fill="none"/>
<circle cx="412.65" cy="275.8" r="1.55" fill="none" stroke="#ac153d" stroke-width="1.2"/>
<path d="M428.11 271.5V281.4M424.91 271.5H431.31M424.91 281.4H431.31" stroke="#ac153d" stroke-width="1" fill="none"/>
<circle cx="428.11" cy="276.5" r="1.55" fill="none" stroke="#ac153d" stroke-width="1.2"/>
<path d="M443.57 273.6V280.4M440.37 273.6H446.77M440.37 280.4H446.77" stroke="#ac153d" stroke-width="1" fill="none"/>
<circle cx="443.57" cy="277.1" r="1.55" fill="none" stroke="#ac153d" stroke-width="1.2"/>
<path d="M459.03 273V282.5M455.83 273H462.23M455.83 282.5H462.23" stroke="#ac153d" stroke-width="1" fill="none"/>
<circle cx="459.03" cy="277.7" r="1.55" fill="none" stroke="#ac153d" stroke-width="1.2"/>
<path d="M474.49 266.4V277M471.29 266.4H477.69M471.29 277H477.69" stroke="#ac153d" stroke-width="1" fill="none"/>
<circle cx="474.49" cy="271.8" r="1.55" fill="none" stroke="#ac153d" stroke-width="1.2"/>
<path d="M489.95 264V280.1M486.75 264H493.15M486.75 280.1H493.15" stroke="#ac153d" stroke-width="1" fill="none"/>
<circle cx="489.95" cy="271.8" r="1.55" fill="none" stroke="#ac153d" stroke-width="1.2"/>
<path d="M505.41 264.8V280.5M502.21 264.8H508.61M502.21 280.5H508.61" stroke="#ac153d" stroke-width="1" fill="none"/>
<circle cx="505.41" cy="272.7" r="1.55" fill="none" stroke="#ac153d" stroke-width="1.2"/>
<text x="7" y="355.4" font-size="12.6" font-weight="bold" class="b">E</text>
<text x="151.9" y="369" font-size="8.2" text-anchor="middle" class="b">Study 270-301</text>
<line x1="51.8" x2="252" y1="450.4" y2="450.4" stroke="#222" stroke-width="1" stroke-dasharray="3.3 2.27" stroke-dashoffset="1.9"/>
<line x1="51.8" x2="252" y1="461.4" y2="461.4" stroke="#222" stroke-width="1" stroke-dasharray="3.3 2.27" stroke-dashoffset="1.9"/>
<rect x="51.8" y="374.4" width="200.2" height="104" fill="none" stroke="#111" stroke-width="1.2"/>
<line x1="48.7" x2="51.8" y1="474.35" y2="474.35" stroke="#222" stroke-width="1"/>
<text transform="translate(45.6,476.2) scale(0.87,1)" font-size="7.5" text-anchor="end" fill="#1e1e1e" class="t">0</text>
<line x1="48.7" x2="51.8" y1="450.21" y2="450.21" stroke="#222" stroke-width="1"/>
<text transform="translate(45.6,452.06) scale(0.87,1)" font-size="7.5" text-anchor="end" fill="#1e1e1e" class="t">10000</text>
<line x1="48.7" x2="51.8" y1="426.07" y2="426.07" stroke="#222" stroke-width="1"/>
<text transform="translate(45.6,427.92) scale(0.87,1)" font-size="7.5" text-anchor="end" fill="#1e1e1e" class="t">20000</text>
<line x1="48.7" x2="51.8" y1="401.93" y2="401.93" stroke="#222" stroke-width="1"/>
<text transform="translate(45.6,403.78) scale(0.87,1)" font-size="7.5" text-anchor="end" fill="#1e1e1e" class="t">30000</text>
<line x1="48.7" x2="51.8" y1="377.79" y2="377.79" stroke="#222" stroke-width="1"/>
<text transform="translate(45.6,379.64) scale(0.87,1)" font-size="7.5" text-anchor="end" fill="#1e1e1e" class="t">40000</text>
<line x1="68.5" x2="68.5" y1="478.4" y2="481.7" stroke="#222" stroke-width="1"/>
<text transform="translate(68.5,490.8) scale(0.87,1)" font-size="7.5" text-anchor="middle" fill="#1e1e1e" class="t">1</text>
<line x1="77.77" x2="77.77" y1="478.4" y2="481.7" stroke="#222" stroke-width="1"/>
<text transform="translate(77.77,490.8) scale(0.87,1)" font-size="7.5" text-anchor="middle" fill="#1e1e1e" class="t">2</text>
<line x1="87.04" x2="87.04" y1="478.4" y2="481.7" stroke="#222" stroke-width="1"/>
<text transform="translate(87.04,490.8) scale(0.87,1)" font-size="7.5" text-anchor="middle" fill="#1e1e1e" class="t">3</text>
<line x1="96.31" x2="96.31" y1="478.4" y2="481.7" stroke="#222" stroke-width="1"/>
<text transform="translate(96.31,490.8) scale(0.87,1)" font-size="7.5" text-anchor="middle" fill="#1e1e1e" class="t">4</text>
<line x1="105.58" x2="105.58" y1="478.4" y2="481.7" stroke="#222" stroke-width="1"/>
<text transform="translate(105.58,490.8) scale(0.87,1)" font-size="7.5" text-anchor="middle" fill="#1e1e1e" class="t">5</text>
<line x1="114.85" x2="114.85" y1="478.4" y2="481.7" stroke="#222" stroke-width="1"/>
<text transform="translate(114.85,490.8) scale(0.87,1)" font-size="7.5" text-anchor="middle" fill="#1e1e1e" class="t">6</text>
<line x1="124.12" x2="124.12" y1="478.4" y2="481.7" stroke="#222" stroke-width="1"/>
<text transform="translate(124.12,490.8) scale(0.87,1)" font-size="7.5" text-anchor="middle" fill="#1e1e1e" class="t">7</text>
<line x1="133.39" x2="133.39" y1="478.4" y2="481.7" stroke="#222" stroke-width="1"/>
<text transform="translate(133.39,490.8) scale(0.87,1)" font-size="7.5" text-anchor="middle" fill="#1e1e1e" class="t">8</text>
<line x1="142.66" x2="142.66" y1="478.4" y2="481.7" stroke="#222" stroke-width="1"/>
<text transform="translate(142.66,490.8) scale(0.87,1)" font-size="7.5" text-anchor="middle" fill="#1e1e1e" class="t">9</text>
<line x1="151.93" x2="151.93" y1="478.4" y2="481.7" stroke="#222" stroke-width="1"/>
<text transform="translate(151.93,490.8) scale(0.87,1)" font-size="7.5" text-anchor="middle" fill="#1e1e1e" class="t">10</text>
<line x1="161.2" x2="161.2" y1="478.4" y2="481.7" stroke="#222" stroke-width="1"/>
<text transform="translate(161.2,490.8) scale(0.87,1)" font-size="7.5" text-anchor="middle" fill="#1e1e1e" class="t">11</text>
<line x1="170.47" x2="170.47" y1="478.4" y2="481.7" stroke="#222" stroke-width="1"/>
<text transform="translate(170.47,490.8) scale(0.87,1)" font-size="7.5" text-anchor="middle" fill="#1e1e1e" class="t">12</text>
<line x1="179.74" x2="179.74" y1="478.4" y2="481.7" stroke="#222" stroke-width="1"/>
<text transform="translate(179.74,490.8) scale(0.87,1)" font-size="7.5" text-anchor="middle" fill="#1e1e1e" class="t">13</text>
<line x1="189.01" x2="189.01" y1="478.4" y2="481.7" stroke="#222" stroke-width="1"/>
<text transform="translate(189.01,490.8) scale(0.87,1)" font-size="7.5" text-anchor="middle" fill="#1e1e1e" class="t">14</text>
<line x1="198.28" x2="198.28" y1="478.4" y2="481.7" stroke="#222" stroke-width="1"/>
<text transform="translate(198.28,490.8) scale(0.87,1)" font-size="7.5" text-anchor="middle" fill="#1e1e1e" class="t">15</text>
<line x1="207.55" x2="207.55" y1="478.4" y2="481.7" stroke="#222" stroke-width="1"/>
<text transform="translate(207.55,490.8) scale(0.87,1)" font-size="7.5" text-anchor="middle" fill="#1e1e1e" class="t">16</text>
<line x1="216.82" x2="216.82" y1="478.4" y2="481.7" stroke="#222" stroke-width="1"/>
<text transform="translate(216.82,490.8) scale(0.87,1)" font-size="7.5" text-anchor="middle" fill="#1e1e1e" class="t">17</text>
<line x1="226.09" x2="226.09" y1="478.4" y2="481.7" stroke="#222" stroke-width="1"/>
<text transform="translate(226.09,490.8) scale(0.87,1)" font-size="7.5" text-anchor="middle" fill="#1e1e1e" class="t">18</text>
<line x1="235.36" x2="235.36" y1="478.4" y2="481.7" stroke="#222" stroke-width="1"/>
<text transform="translate(235.36,490.8) scale(0.87,1)" font-size="7.5" text-anchor="middle" fill="#1e1e1e" class="t">19</text>
<line x1="244.63" x2="244.63" y1="478.4" y2="481.7" stroke="#222" stroke-width="1"/>
<text transform="translate(244.63,490.8) scale(0.87,1)" font-size="7.5" text-anchor="middle" fill="#1e1e1e" class="t">20</text>
<text x="152" y="502.7" font-size="9.9" text-anchor="middle" textLength="76.0" lengthAdjust="spacingAndGlyphs" fill="#1e1e1e">Gene therapy participant</text>
<text transform="translate(21.7,426.3) rotate(-90)" font-size="9.5" text-anchor="middle" textLength="85" lengthAdjust="spacingAndGlyphs" fill="#1e1e1e">Specific activity (OS; IU/mg)</text>
<path d="M68.5 412.9V431.3M66.35 412.9H70.65M66.35 431.3H70.65" stroke="#2f4d8e" stroke-width="1" fill="none"/>
<circle cx="68.5" cy="422.3" r="1.55" fill="none" stroke="#2f4d8e" stroke-width="1.2"/>
<path d="M77.77 382.9V399.6M75.62 382.9H79.92M75.62 399.6H79.92" stroke="#2f4d8e" stroke-width="1" fill="none"/>
<circle cx="77.77" cy="391.1" r="1.55" fill="none" stroke="#2f4d8e" stroke-width="1.2"/>
<path d="M87.04 426.8V435.7M84.89 426.8H89.19M84.89 435.7H89.19" stroke="#2f4d8e" stroke-width="1" fill="none"/>
<circle cx="87.04" cy="431.2" r="1.55" fill="none" stroke="#2f4d8e" stroke-width="1.2"/>
<path d="M96.31 406.7V433.9M94.16 406.7H98.46M94.16 433.9H98.46" stroke="#2f4d8e" stroke-width="1" fill="none"/>
<circle cx="96.31" cy="420.3" r="1.55" fill="none" stroke="#2f4d8e" stroke-width="1.2"/>
<path d="M105.58 390V432M103.43 390H107.73M103.43 432H107.73" stroke="#2f4d8e" stroke-width="1" fill="none"/>
<circle cx="105.58" cy="411.2" r="1.55" fill="none" stroke="#2f4d8e" stroke-width="1.2"/>
<path d="M114.85 411.8V434.2M112.7 411.8H117M112.7 434.2H117" stroke="#2f4d8e" stroke-width="1" fill="none"/>
<circle cx="114.85" cy="423" r="1.55" fill="none" stroke="#2f4d8e" stroke-width="1.2"/>
<path d="M124.12 409.1V436.4M121.97 409.1H126.27M121.97 436.4H126.27" stroke="#2f4d8e" stroke-width="1" fill="none"/>
<circle cx="124.12" cy="422.5" r="1.55" fill="none" stroke="#2f4d8e" stroke-width="1.2"/>
<path d="M133.39 410.5V429M131.24 410.5H135.54M131.24 429H135.54" stroke="#2f4d8e" stroke-width="1" fill="none"/>
<circle cx="133.39" cy="419.6" r="1.55" fill="none" stroke="#2f4d8e" stroke-width="1.2"/>
<path d="M142.66 406.4V432M140.51 406.4H144.81M140.51 432H144.81" stroke="#2f4d8e" stroke-width="1" fill="none"/>
<circle cx="142.66" cy="419.1" r="1.55" fill="none" stroke="#2f4d8e" stroke-width="1.2"/>
<path d="M151.93 411.8V438.8M149.78 411.8H154.08M149.78 438.8H154.08" stroke="#2f4d8e" stroke-width="1" fill="none"/>
<circle cx="151.93" cy="425.5" r="1.55" fill="none" stroke="#2f4d8e" stroke-width="1.2"/>
<path d="M161.2 424.4V444.6M159.05 424.4H163.35M159.05 444.6H163.35" stroke="#2f4d8e" stroke-width="1" fill="none"/>
<circle cx="161.2" cy="434.5" r="1.55" fill="none" stroke="#2f4d8e" stroke-width="1.2"/>
<path d="M170.47 413.3V431M168.32 413.3H172.62M168.32 431H172.62" stroke="#2f4d8e" stroke-width="1" fill="none"/>
<circle cx="170.47" cy="422.2" r="1.55" fill="none" stroke="#2f4d8e" stroke-width="1.2"/>
<path d="M179.74 387.1V411.6M177.59 387.1H181.89M177.59 411.6H181.89" stroke="#2f4d8e" stroke-width="1" fill="none"/>
<circle cx="179.74" cy="399.4" r="1.55" fill="none" stroke="#2f4d8e" stroke-width="1.2"/>
<path d="M189.01 407.8V446M186.86 407.8H191.16M186.86 446H191.16" stroke="#2f4d8e" stroke-width="1" fill="none"/>
<circle cx="189.01" cy="426.8" r="1.55" fill="none" stroke="#2f4d8e" stroke-width="1.2"/>
<path d="M198.28 432.3V453M196.13 432.3H200.43M196.13 453H200.43" stroke="#2f4d8e" stroke-width="1" fill="none"/>
<circle cx="198.28" cy="442.7" r="1.55" fill="none" stroke="#2f4d8e" stroke-width="1.2"/>
<path d="M207.55 411.5V431.9M205.4 411.5H209.7M205.4 431.9H209.7" stroke="#2f4d8e" stroke-width="1" fill="none"/>
<circle cx="207.55" cy="421.8" r="1.55" fill="none" stroke="#2f4d8e" stroke-width="1.2"/>
<path d="M216.82 420.6V448.2M214.67 420.6H218.97M214.67 448.2H218.97" stroke="#2f4d8e" stroke-width="1" fill="none"/>
<circle cx="216.82" cy="434.3" r="1.55" fill="none" stroke="#2f4d8e" stroke-width="1.2"/>
<path d="M226.09 428.7V442.7M223.94 428.7H228.24M223.94 442.7H228.24" stroke="#2f4d8e" stroke-width="1" fill="none"/>
<circle cx="226.09" cy="435.8" r="1.55" fill="none" stroke="#2f4d8e" stroke-width="1.2"/>
<path d="M235.36 402.6V420.6M233.21 402.6H237.51M233.21 420.6H237.51" stroke="#2f4d8e" stroke-width="1" fill="none"/>
<circle cx="235.36" cy="411.5" r="1.55" fill="none" stroke="#2f4d8e" stroke-width="1.2"/>
<path d="M244.63 417.4V427.3M242.48 417.4H246.78M242.48 427.3H246.78" stroke="#2f4d8e" stroke-width="1" fill="none"/>
<circle cx="244.63" cy="422.4" r="1.55" fill="none" stroke="#2f4d8e" stroke-width="1.2"/>
<text x="267.6" y="355.4" font-size="12.6" font-weight="bold" class="b">F</text>
<text x="412.5" y="369" font-size="8.2" text-anchor="middle" class="b">Study 270-301</text>
<line x1="312.4" x2="512.6" y1="441.4" y2="441.4" stroke="#222" stroke-width="1" stroke-dasharray="3.3 2.27" stroke-dashoffset="1.9"/>
<line x1="312.4" x2="512.6" y1="456.3" y2="456.3" stroke="#222" stroke-width="1" stroke-dasharray="3.3 2.27" stroke-dashoffset="1.9"/>
<rect x="312.4" y="374.4" width="200.2" height="104" fill="none" stroke="#111" stroke-width="1.2"/>
<line x1="309.3" x2="312.4" y1="474.35" y2="474.35" stroke="#222" stroke-width="1"/>
<text transform="translate(306.2,476.2) scale(0.87,1)" font-size="7.5" text-anchor="end" fill="#1e1e1e" class="t">0</text>
<line x1="309.3" x2="312.4" y1="450.21" y2="450.21" stroke="#222" stroke-width="1"/>
<text transform="translate(306.2,452.06) scale(0.87,1)" font-size="7.5" text-anchor="end" fill="#1e1e1e" class="t">10000</text>
<line x1="309.3" x2="312.4" y1="426.07" y2="426.07" stroke="#222" stroke-width="1"/>
<text transform="translate(306.2,427.92) scale(0.87,1)" font-size="7.5" text-anchor="end" fill="#1e1e1e" class="t">20000</text>
<line x1="309.3" x2="312.4" y1="401.93" y2="401.93" stroke="#222" stroke-width="1"/>
<text transform="translate(306.2,403.78) scale(0.87,1)" font-size="7.5" text-anchor="end" fill="#1e1e1e" class="t">30000</text>
<line x1="309.3" x2="312.4" y1="377.79" y2="377.79" stroke="#222" stroke-width="1"/>
<text transform="translate(306.2,379.64) scale(0.87,1)" font-size="7.5" text-anchor="end" fill="#1e1e1e" class="t">40000</text>
<line x1="329.1" x2="329.1" y1="478.4" y2="481.7" stroke="#222" stroke-width="1"/>
<text transform="translate(329.1,490.8) scale(0.87,1)" font-size="7.5" text-anchor="middle" fill="#1e1e1e" class="t">1</text>
<line x1="338.37" x2="338.37" y1="478.4" y2="481.7" stroke="#222" stroke-width="1"/>
<text transform="translate(338.37,490.8) scale(0.87,1)" font-size="7.5" text-anchor="middle" fill="#1e1e1e" class="t">2</text>
<line x1="347.64" x2="347.64" y1="478.4" y2="481.7" stroke="#222" stroke-width="1"/>
<text transform="translate(347.64,490.8) scale(0.87,1)" font-size="7.5" text-anchor="middle" fill="#1e1e1e" class="t">3</text>
<line x1="356.91" x2="356.91" y1="478.4" y2="481.7" stroke="#222" stroke-width="1"/>
<text transform="translate(356.91,490.8) scale(0.87,1)" font-size="7.5" text-anchor="middle" fill="#1e1e1e" class="t">4</text>
<line x1="366.18" x2="366.18" y1="478.4" y2="481.7" stroke="#222" stroke-width="1"/>
<text transform="translate(366.18,490.8) scale(0.87,1)" font-size="7.5" text-anchor="middle" fill="#1e1e1e" class="t">5</text>
<line x1="375.45" x2="375.45" y1="478.4" y2="481.7" stroke="#222" stroke-width="1"/>
<text transform="translate(375.45,490.8) scale(0.87,1)" font-size="7.5" text-anchor="middle" fill="#1e1e1e" class="t">6</text>
<line x1="384.72" x2="384.72" y1="478.4" y2="481.7" stroke="#222" stroke-width="1"/>
<text transform="translate(384.72,490.8) scale(0.87,1)" font-size="7.5" text-anchor="middle" fill="#1e1e1e" class="t">7</text>
<line x1="393.99" x2="393.99" y1="478.4" y2="481.7" stroke="#222" stroke-width="1"/>
<text transform="translate(393.99,490.8) scale(0.87,1)" font-size="7.5" text-anchor="middle" fill="#1e1e1e" class="t">8</text>
<line x1="403.26" x2="403.26" y1="478.4" y2="481.7" stroke="#222" stroke-width="1"/>
<text transform="translate(403.26,490.8) scale(0.87,1)" font-size="7.5" text-anchor="middle" fill="#1e1e1e" class="t">9</text>
<line x1="412.53" x2="412.53" y1="478.4" y2="481.7" stroke="#222" stroke-width="1"/>
<text transform="translate(412.53,490.8) scale(0.87,1)" font-size="7.5" text-anchor="middle" fill="#1e1e1e" class="t">10</text>
<line x1="421.8" x2="421.8" y1="478.4" y2="481.7" stroke="#222" stroke-width="1"/>
<text transform="translate(421.8,490.8) scale(0.87,1)" font-size="7.5" text-anchor="middle" fill="#1e1e1e" class="t">11</text>
<line x1="431.07" x2="431.07" y1="478.4" y2="481.7" stroke="#222" stroke-width="1"/>
<text transform="translate(431.07,490.8) scale(0.87,1)" font-size="7.5" text-anchor="middle" fill="#1e1e1e" class="t">12</text>
<line x1="440.34" x2="440.34" y1="478.4" y2="481.7" stroke="#222" stroke-width="1"/>
<text transform="translate(440.34,490.8) scale(0.87,1)" font-size="7.5" text-anchor="middle" fill="#1e1e1e" class="t">13</text>
<line x1="449.61" x2="449.61" y1="478.4" y2="481.7" stroke="#222" stroke-width="1"/>
<text transform="translate(449.61,490.8) scale(0.87,1)" font-size="7.5" text-anchor="middle" fill="#1e1e1e" class="t">14</text>
<line x1="458.88" x2="458.88" y1="478.4" y2="481.7" stroke="#222" stroke-width="1"/>
<text transform="translate(458.88,490.8) scale(0.87,1)" font-size="7.5" text-anchor="middle" fill="#1e1e1e" class="t">15</text>
<line x1="468.15" x2="468.15" y1="478.4" y2="481.7" stroke="#222" stroke-width="1"/>
<text transform="translate(468.15,490.8) scale(0.87,1)" font-size="7.5" text-anchor="middle" fill="#1e1e1e" class="t">16</text>
<line x1="477.42" x2="477.42" y1="478.4" y2="481.7" stroke="#222" stroke-width="1"/>
<text transform="translate(477.42,490.8) scale(0.87,1)" font-size="7.5" text-anchor="middle" fill="#1e1e1e" class="t">17</text>
<line x1="486.69" x2="486.69" y1="478.4" y2="481.7" stroke="#222" stroke-width="1"/>
<text transform="translate(486.69,490.8) scale(0.87,1)" font-size="7.5" text-anchor="middle" fill="#1e1e1e" class="t">18</text>
<line x1="495.96" x2="495.96" y1="478.4" y2="481.7" stroke="#222" stroke-width="1"/>
<text transform="translate(495.96,490.8) scale(0.87,1)" font-size="7.5" text-anchor="middle" fill="#1e1e1e" class="t">19</text>
<line x1="505.23" x2="505.23" y1="478.4" y2="481.7" stroke="#222" stroke-width="1"/>
<text transform="translate(505.23,490.8) scale(0.87,1)" font-size="7.5" text-anchor="middle" fill="#1e1e1e" class="t">20</text>
<text x="412.6" y="502.7" font-size="9.9" text-anchor="middle" textLength="76.0" lengthAdjust="spacingAndGlyphs" fill="#1e1e1e">Gene therapy participant</text>
<text transform="translate(282.3,426.3) rotate(-90)" font-size="9.5" text-anchor="middle" textLength="85" lengthAdjust="spacingAndGlyphs" fill="#1e1e1e">Specific activity (CS; IU/mg)</text>
<path d="M329.1 438.6V449.2M326.95 438.6H331.25M326.95 449.2H331.25" stroke="#ac153d" stroke-width="1" fill="none"/>
<circle cx="329.1" cy="443.8" r="1.55" fill="none" stroke="#ac153d" stroke-width="1.2"/>
<path d="M338.37 422V433.5M336.22 422H340.52M336.22 433.5H340.52" stroke="#ac153d" stroke-width="1" fill="none"/>
<circle cx="338.37" cy="428" r="1.55" fill="none" stroke="#ac153d" stroke-width="1.2"/>
<path d="M347.64 444.4V451.6M345.49 444.4H349.79M345.49 451.6H349.79" stroke="#ac153d" stroke-width="1" fill="none"/>
<circle cx="347.64" cy="448.2" r="1.55" fill="none" stroke="#ac153d" stroke-width="1.2"/>
<path d="M356.91 434.8V450.2M354.76 434.8H359.06M354.76 450.2H359.06" stroke="#ac153d" stroke-width="1" fill="none"/>
<circle cx="356.91" cy="442.3" r="1.55" fill="none" stroke="#ac153d" stroke-width="1.2"/>
<path d="M366.18 424.3V447.2M364.03 424.3H368.33M364.03 447.2H368.33" stroke="#ac153d" stroke-width="1" fill="none"/>
<circle cx="366.18" cy="435.9" r="1.55" fill="none" stroke="#ac153d" stroke-width="1.2"/>
<path d="M375.45 435.2V450.2M373.3 435.2H377.6M373.3 450.2H377.6" stroke="#ac153d" stroke-width="1" fill="none"/>
<circle cx="375.45" cy="442.7" r="1.55" fill="none" stroke="#ac153d" stroke-width="1.2"/>
<path d="M384.72 430.9V450.7M382.57 430.9H386.87M382.57 450.7H386.87" stroke="#ac153d" stroke-width="1" fill="none"/>
<circle cx="384.72" cy="441.1" r="1.55" fill="none" stroke="#ac153d" stroke-width="1.2"/>
<path d="M393.99 434.8V447.2M391.84 434.8H396.14M391.84 447.2H396.14" stroke="#ac153d" stroke-width="1" fill="none"/>
<circle cx="393.99" cy="441.1" r="1.55" fill="none" stroke="#ac153d" stroke-width="1.2"/>
<path d="M403.26 433.6V449.8M401.11 433.6H405.41M401.11 449.8H405.41" stroke="#ac153d" stroke-width="1" fill="none"/>
<circle cx="403.26" cy="441.7" r="1.55" fill="none" stroke="#ac153d" stroke-width="1.2"/>
<path d="M412.53 435.6V453.2M410.38 435.6H414.68M410.38 453.2H414.68" stroke="#ac153d" stroke-width="1" fill="none"/>
<circle cx="412.53" cy="444.4" r="1.55" fill="none" stroke="#ac153d" stroke-width="1.2"/>
<path d="M421.8 443.4V455M419.65 443.4H423.95M419.65 455H423.95" stroke="#ac153d" stroke-width="1" fill="none"/>
<circle cx="421.8" cy="449.3" r="1.55" fill="none" stroke="#ac153d" stroke-width="1.2"/>
<path d="M431.07 436.3V449.6M428.92 436.3H433.22M428.92 449.6H433.22" stroke="#ac153d" stroke-width="1" fill="none"/>
<circle cx="431.07" cy="442.8" r="1.55" fill="none" stroke="#ac153d" stroke-width="1.2"/>
<path d="M440.34 425.7V440.5M438.19 425.7H442.49M438.19 440.5H442.49" stroke="#ac153d" stroke-width="1" fill="none"/>
<circle cx="440.34" cy="432.9" r="1.55" fill="none" stroke="#ac153d" stroke-width="1.2"/>
<path d="M449.61 431.4V453.7M447.46 431.4H451.76M447.46 453.7H451.76" stroke="#ac153d" stroke-width="1" fill="none"/>
<circle cx="449.61" cy="442.5" r="1.55" fill="none" stroke="#ac153d" stroke-width="1.2"/>
<path d="M458.88 451.2V461.2M456.73 451.2H461.03M456.73 461.2H461.03" stroke="#ac153d" stroke-width="1" fill="none"/>
<circle cx="458.88" cy="456.4" r="1.55" fill="none" stroke="#ac153d" stroke-width="1.2"/>
<path d="M468.15 439.7V454.3M466 439.7H470.3M466 454.3H470.3" stroke="#ac153d" stroke-width="1" fill="none"/>
<circle cx="468.15" cy="447.1" r="1.55" fill="none" stroke="#ac153d" stroke-width="1.2"/>
<path d="M477.42 439.3V457.7M475.27 439.3H479.57M475.27 457.7H479.57" stroke="#ac153d" stroke-width="1" fill="none"/>
<circle cx="477.42" cy="448.6" r="1.55" fill="none" stroke="#ac153d" stroke-width="1.2"/>
<path d="M486.69 438.9V450.9M484.54 438.9H488.84M484.54 450.9H488.84" stroke="#ac153d" stroke-width="1" fill="none"/>
<circle cx="486.69" cy="445.1" r="1.55" fill="none" stroke="#ac153d" stroke-width="1.2"/>
<path d="M495.96 434.5V444.2M493.81 434.5H498.11M493.81 444.2H498.11" stroke="#ac153d" stroke-width="1" fill="none"/>
<circle cx="495.96" cy="439.4" r="1.55" fill="none" stroke="#ac153d" stroke-width="1.2"/>
<path d="M505.23 431.7V442.9M503.08 431.7H507.38M503.08 442.9H507.38" stroke="#ac153d" stroke-width="1" fill="none"/>
<circle cx="505.23" cy="437.2" r="1.55" fill="none" stroke="#ac153d" stroke-width="1.2"/>
</svg>
</body></html>
